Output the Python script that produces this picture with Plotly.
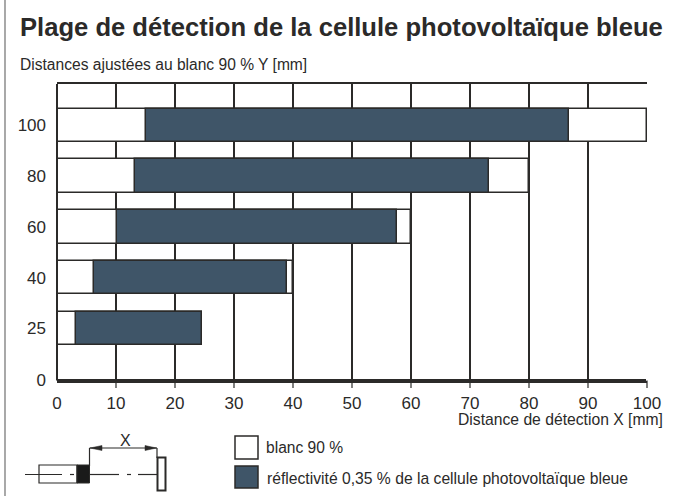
import plotly.graph_objects as go

W, H = 677, 496
categories = ["25", "40", "60", "80", "100"]
white_range = [24.6, 40, 60, 80, 100]
blue_start = [3.2, 6.3, 10.2, 13.3, 15.0]
blue_end = [24.6, 39.0, 57.6, 73.2, 86.7]
x_ticks = [0, 10, 20, 30, 40, 50, 60, 70, 80, 90, 100]
y_labels = ["0"] + categories
title = "Plage de détection de la cellule photovoltaïque bleue"
subtitle = "Distances ajustées au blanc 90 % Y [mm]"
x_title = "Distance de détection X [mm]"
legend_white = "blanc 90 %"
legend_blue = "réflectivité 0,35 % de la cellule photovoltaïque bleue"

DARK = "#2b2a29"
BLUE = "#3f5568"
TEXT = "#2b2a29"
FONT = "Liberation Sans"

L, R, T, B = 57, 647, 84, 380.5
UNIT = 50.7
y_top = (B - T) / UNIT
ypos = [k + 1.03 for k in range(5)]
y_ticks = [0] + ypos

fig = go.Figure()
fig.add_bar(y=ypos, x=white_range, base=0, orientation="h", width=0.66,
            marker=dict(color="white", line=dict(color=DARK, width=1.5)), showlegend=False)
fig.add_bar(y=ypos, x=[e - s for s, e in zip(blue_start, blue_end)], base=blue_start,
            orientation="h", width=0.66,
            marker=dict(color=BLUE, line=dict(color=DARK, width=1.5)), showlegend=False)

def px(x): return x / W
def py(y): return 1 - y / H

shapes = []
def line(x0, y0, x1, y1, w=1.5, c=DARK):
    shapes.append(dict(type="line", xref="paper", yref="paper", x0=px(x0), y0=py(y0), x1=px(x1), y1=py(y1),
                       line=dict(color=c, width=w), layer="above"))
def rect(x0, y0, x1, y1, fill="white", w=1.5, c=DARK):
    shapes.append(dict(type="rect", xref="paper", yref="paper", x0=px(x0), y0=py(y0), x1=px(x1), y1=py(y1),
                       fillcolor=fill, line=dict(color=c, width=w), layer="above"))
def tri(pts):
    path = "M " + " L ".join(f"{px(a)} {py(b)}" for a, b in pts) + " Z"
    shapes.append(dict(type="path", xref="paper", yref="paper", path=path, fillcolor=DARK,
                       line=dict(color=DARK, width=0.5), layer="above"))

# outer frame: left rule only
line(5, 0, 5, H, 1.2, "#6f6f6f")

# thick axis lines and ticks
line(L, T, L, B, 2)
line(L, B, R - 1, B, 3)
for t in x_ticks[1:]:
    xp = L + (R - L) * t / 100
    line(xp, B, xp, 388, 1.2)

# legend swatches
rect(235, 436, 258, 459)
rect(235, 466, 258, 488, fill=BLUE)

# sensor drawing
rect(39, 465, 77, 483, w=1.2)
rect(77, 465, 89.5, 483, fill="#1a1a1a", w=1)
for a, b in [(25, 62), (70, 74), (90, 119), (127, 131), (138, 157)]:
    line(a, 474.5, b, 474.5, 1.2)
rect(157.5, 457.5, 165.5, 490.5, w=2)
line(89.5, 448, 89.5, 466, 1.2)
line(157, 448, 157, 458, 1.2)
line(89.5, 448, 157, 448, 1.2)
tri([(90, 448), (102, 445.5), (102, 450.5)])
tri([(156.5, 448), (145, 445.5), (145, 450.5)])

annotations = []
def txt(x, y, s, size, anchor="left", bold=False):
    annotations.append(dict(xref="paper", yref="paper", x=px(x), y=py(y), text=f"<b>{s}</b>" if bold else s,
                            showarrow=False, xanchor=anchor, yanchor="middle", align=anchor,
                            font=dict(family=FONT, size=size, color=TEXT)))

txt(18, 27, title, 25.6, bold=True)
txt(18, 64, subtitle, 15.6)
txt(665, 419.5, x_title, 15.7, anchor="right")
txt(264, 447, legend_white, 15.6)
txt(265, 478, legend_blue, 15.7)
txt(125, 440, "X", 16, anchor="center")

fig.update_layout(
    width=W, height=H, autosize=False,
    margin=dict(l=0, r=0, t=0, b=0, autoexpand=False),
    paper_bgcolor="white", plot_bgcolor="white",
    barmode="overlay", bargap=0,
    shapes=shapes, annotations=annotations,
    font=dict(family=FONT, size=17, color=TEXT),
    xaxis=dict(domain=[L / W, R / W], range=[0, 100], tickmode="array", tickvals=x_ticks,
               ticks="", showgrid=True, gridcolor=DARK, gridwidth=1.5, zeroline=False,
               showline=True, linecolor=DARK, linewidth=1.5, mirror=True, ticklabelstandoff=6,
               tickfont=dict(size=17, family=FONT, color=TEXT)),
    yaxis=dict(domain=[1 - B / H, 1 - T / H], range=[0, y_top], tickmode="array", tickvals=y_ticks,
               ticktext=y_labels, ticks="", showgrid=False, zeroline=False, showline=False,
               ticklabelstandoff=10, tickfont=dict(size=17, family=FONT, color=TEXT)),
)
fig.write_html("out.html", config=dict(displayModeBar=False),
               post_script="document.body.style.margin='0';document.body.style.overflow='hidden';")
